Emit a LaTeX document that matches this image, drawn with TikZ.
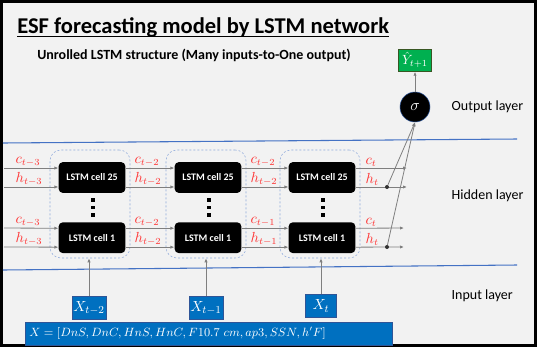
\documentclass[tikz,border=0pt]{standalone}
\usepackage{fontspec}
\setmainfont{Carlito}
\usetikzlibrary{arrows.meta, positioning}
\definecolor{slidebg}{HTML}{F2F2F2}
\definecolor{rulecol}{HTML}{4472C4}
\definecolor{dashcol}{HTML}{8EA9DB}
\definecolor{wire}{HTML}{7F7F7F}
\definecolor{inblue}{HTML}{0070C0}
\definecolor{inedge}{HTML}{2F5597}
\definecolor{outgreen}{HTML}{00B050}
\definecolor{outedge}{HTML}{385723}
\definecolor{lblred}{HTML}{FF3333}

\begin{document}
\begin{tikzpicture}[x=0.75pt, y=-0.75pt,
    every node/.style={font=\fontsize{10}{12}\selectfont},
    cell/.style={fill=black, rounded corners=3pt, text=white, minimum width=50pt, minimum height=23pt, font=\fontsize{7.5}{9}\selectfont\bfseries},
    unroll/.style={draw=dashcol, dash pattern=on 1.5pt off 1.5pt, rounded corners=8pt, minimum width=60pt, minimum height=81pt},
    lab/.style={anchor=south west, inner sep=1pt, text=lblred, font=\fontsize{10.5}{12}\selectfont},
    inbox/.style={fill=inblue, draw=inedge, text=white, minimum width=23pt, minimum height=17pt, inner sep=1pt, font=\fontsize{11}{13}\selectfont},
    layer/.style={anchor=west, font=\fontsize{10.5}{12}\selectfont},
    vdot/.style={fill=black, inner sep=0pt, minimum size=2.4pt},
    tap/.style={circle, fill=black!80, inner sep=0pt, minimum size=3pt},
    arr/.style={draw=wire, line width=0.6pt, -{Latex[length=3pt, width=2.5pt]}}
]
    \useasboundingbox (0,0) rectangle (539,347);
    \draw[line width=2.25pt, fill=slidebg] (1.5,1.5) rectangle (535.5,345.5);

    % title
    \node[anchor=base west, inner sep=0pt, font=\fontsize{16.9}{20}\selectfont\bfseries] (title) at (17,33) {ESF forecasting model by LSTM network};
    \draw[line width=1pt] ([yshift=-2.5pt]title.base west) -- ([yshift=-2.5pt]title.base east);
    \node[anchor=west, inner sep=0pt, font=\fontsize{10.5}{12}\selectfont\bfseries] (sub) at (37,55) {Unrolled LSTM structure (Many inputs-to-One output)};

    % layer borders
    \draw[rulecol, line width=0.8pt] (3,143) -- (517,139);
    \draw[rulecol, line width=0.8pt] (3,270) -- (517,265);

    % unrolled cells
    \foreach \k/\cx in {1/92, 2/208, 3/322} {
        \node[unroll] (col\k) at (\cx-2,204) {};
        \node[cell] (top\k) at (\cx,177.5) {LSTM cell 25};
        \node[cell, below=21.75pt of top\k] (bot\k) {LSTM cell 1};
        \foreach \d [count=\m] in {200,207.5,215}
            \node[vdot] (dot\k\m) at (\cx+1,\d) {};
    }

    \coordinate (top0) at (4,177.5);
    \coordinate (bot0) at (4,237.5);
    \coordinate (top4) at (407,177.5);
    \coordinate (bot4) at (404,237.5);

    % cell and hidden states
    \foreach \a/\b in {0/1, 1/2, 2/3, 3/4} {
        \draw[arr] ([yshift=7.1pt]top\a.east) -- ([yshift=7.1pt]top\b.west);
        \draw[arr] ([yshift=-7.1pt]top\a.east) -- ([yshift=-7.1pt]top\b.west);
        \draw[arr] ([yshift=7.1pt]bot\a.east) -- ([yshift=7.1pt]bot\b.west);
        \draw[arr] ([yshift=-7.1pt]bot\a.east) -- ([yshift=-7.1pt]bot\b.west);
    }

    \foreach \x/\tl/\bl [count=\n] in {14/{t-3}/{t-3}, 133/{t-2}/{t-2}, 249/{t-2}/{t-1}, 364/{t}/{t}} {
        \node[lab] (ct\n) at (\x,168) {$c_{\tl}$};
        \node[lab] (ht\n) at (\x,187) {$h_{\tl}$};
        \node[lab] (cb\n) at (\x,228) {$c_{\bl}$};
        \node[lab] (hb\n) at (\x,247) {$h_{\bl}$};
    }

    % output
    \node[tap] (tapt) at (387,187) {};
    \node[tap] (tapb) at (387,247) {};
    \node[circle, fill=black, draw=inedge, minimum size=22.5pt, inner sep=0pt, text=white, font=\fontsize{12}{14}\selectfont] (sig) at (415,107) {$\sigma$};
    \node[fill=outgreen, draw=outedge, text=white, minimum width=25pt, minimum height=17pt, inner sep=1pt, above=15pt of sig] (yhat) {$\hat{Y}_{t+1}$};
    \draw[arr] (sig) -- (yhat);
    \draw[arr] (tapt) -- (sig.south);
    \draw[arr] (tapb) -- (sig.south);

    \node[layer] (outl) at (447,107) {Output layer};
    \node[layer] (hidl) at (447,196) {Hidden layer};
    \node[layer] (inl) at (447,296) {Input layer};

    % inputs
    \node[inbox] (x1) at (89,308) {$X_{t-2}$};
    \node[inbox] (x2) at (206,308) {$X_{t-1}$};
    \node[inbox] (x3) at (321,306) {$X_t$};
    \foreach \k in {1,2,3}
        \draw[arr] (x\k.north) -- (x\k.north |- col\k.south);

    \node[inbox, anchor=west, minimum width=275pt, text width=269pt, align=left, inner sep=3pt, font=\fontsize{8.8}{11}\selectfont] (xvec) at (25,333.5) {$X = [DnS, DnC, HnS, HnC, F10.7\ cm, ap3, SSN, h'F]$};
\end{tikzpicture}
\end{document}
